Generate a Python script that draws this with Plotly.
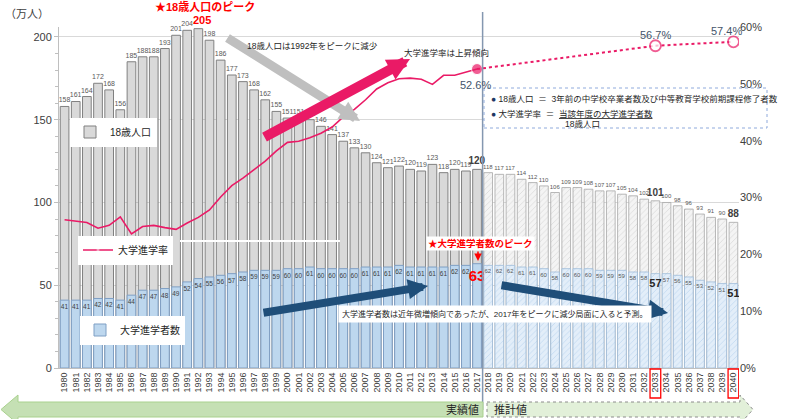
import plotly.graph_objects as go

# ---------------- data ----------------
years_actual = list(range(1980, 2018))
years_proj = list(range(2018, 2041))

pop_actual = [158, 161, 164, 172, 168, 156, 185, 188, 188, 193, 201, 204, 205, 198, 186, 177,
              173, 168, 162, 155, 151, 151, 150, 146, 141, 137, 133, 130, 124, 121, 122, 120,
              119, 123, 118, 120, 119, 120]
pop_proj = [118, 117, 117, 114, 112, 110, 106, 109, 109, 108, 107, 107, 105, 104, 102, 101,
            100, 98, 96, 93, 91, 90, 88]

ent_actual = [41, 41, 41, 42, 42, 41, 44, 47, 47, 48, 49, 52, 54, 55, 56, 57, 58, 59, 59, 59,
              60, 60, 61, 60, 60, 60, 60, 61, 61, 61, 62, 61, 61, 61, 61, 62, 62, 63]
ent_proj = [62, 62, 62, 61, 61, 60, 58, 60, 60, 60, 59, 59, 59, 58, 58, 57, 57, 56, 55, 53,
            52, 51, 51]

rate_actual = [26.1, 25.9, 25.6, 24.6, 25.1, 26.6, 23.6, 24.9, 25.1, 24.7, 24.4, 25.5, 26.5,
               27.8, 30.1, 32.1, 33.4, 34.9, 36.4, 38.2, 39.7, 39.9, 40.5, 41.3, 42.4, 44.2,
               45.5, 47.2, 49.1, 50.2, 50.9, 51.0, 50.8, 49.9, 51.5, 51.5, 52.0, 52.6]
rate_proj_years = [2017, 2033, 2040]
rate_proj = [52.6, 56.7, 57.4]

all_years = years_actual + years_proj
tick_labels = [str(y) for y in all_years]
boxed_years = [2033, 2040]
peak_year = 1992

# ---------------- styles ----------------
FONT = "Liberation Sans, Noto Sans CJK JP, sans-serif"
PINK = "#ea1a66"
GRAY_TXT = "#595959"
NAVY = "#1f4e79"

L, R, T, B = 59, 61, 27, 51
W, H = 800, 419
PW, PH = W - L - R, H - T - B


def px(x):
    return (x - L) / PW


def py(y):
    return (H - B - y) / PH


def special(vals, years, marks, base_size, base_color, hide=()):
    txt, sz, col = [], [], []
    for v, yr in zip(vals, years):
        if yr in hide:
            txt.append("")
            sz.append(base_size)
            col.append(base_color)
        elif yr in marks:
            s, c = marks[yr]
            txt.append("<b>%d</b>" % v)
            sz.append(s)
            col.append(c)
        else:
            txt.append(str(v))
            sz.append(base_size)
            col.append(base_color)
    return txt, sz, col


pa_t, pa_s, pa_c = special(pop_actual, years_actual, {2017: (10, "#404040")}, 7, GRAY_TXT, hide=(peak_year,))
pp_t, pp_s, pp_c = special(pop_proj, years_proj, {2033: (10, "#404040"), 2040: (10, "#404040")}, 6, GRAY_TXT)
ea_t, ea_s, ea_c = special(ent_actual, years_actual, {2017: (15, "#ff0000")}, 6.5, "#404040")
ep_t, ep_s, ep_c = special(ent_proj, years_proj, {2033: (11, "#262626"), 2040: (11, "#262626")}, 6, GRAY_TXT)

fig = go.Figure()

bw = 0.78
fig.add_trace(go.Bar(
    x=years_actual, y=pop_actual, name="18歳人口", width=bw,
    marker=dict(color="#d9d9d9", line=dict(color="#808080", width=1)),
    text=pa_t, textposition="outside", textangle=0, constraintext="none",
    textfont=dict(size=pa_s, color=pa_c), cliponaxis=False, legend="legend",
))
fig.add_trace(go.Bar(
    x=years_proj, y=pop_proj, showlegend=False, width=bw,
    marker=dict(color="#f4f4f4", line=dict(color="#a6a6a6", width=0.8),
                pattern=dict(shape="/", fgcolor="#bfbfbf", size=4, solidity=0.2, fillmode="overlay")),
    text=pp_t, textposition="outside", textangle=0, constraintext="none",
    textfont=dict(size=pp_s, color=pp_c), cliponaxis=False,
))
fig.add_trace(go.Bar(
    x=years_actual, y=ent_actual, name="大学進学者数", width=bw,
    marker=dict(color="#bdd7ee", line=dict(color="#7f9fc4", width=1)),
    text=ea_t, textposition="inside", insidetextanchor="end", textangle=0, constraintext="none",
    textfont=dict(size=ea_s, color=ea_c), legend="legend3",
))
fig.add_trace(go.Bar(
    x=years_proj, y=ent_proj, showlegend=False, width=bw,
    marker=dict(color="#e3eef9", line=dict(color="#9dbbd9", width=0.8),
                pattern=dict(shape="/", fgcolor="#9dc3e6", size=4, solidity=0.2, fillmode="overlay")),
    text=ep_t, textposition="inside", insidetextanchor="end", textangle=0, constraintext="none",
    textfont=dict(size=ep_s, color=ep_c),
))

n = len(rate_actual)
fig.add_trace(go.Scatter(
    x=years_actual, y=rate_actual, yaxis="y2", mode="lines+markers", name="大学進学率",
    line=dict(color=PINK, width=1.6),
    marker=dict(size=[0] * (n - 1) + [11], color=PINK), legend="legend2",
))
fig.add_trace(go.Scatter(
    x=rate_proj_years, y=rate_proj, yaxis="y2", mode="lines+markers", showlegend=False,
    line=dict(color=PINK, width=2, dash="dot"),
    marker=dict(size=[0, 11, 11], color="white", line=dict(color=PINK, width=1.8)),
))

shapes = []
shapes.append(dict(type="line", xref="x", yref="paper", x0=2017.5, x1=2017.5,
                   y0=py(410), y1=py(12), line=dict(color="#8497b0", width=1.5), layer="above"))
for yr in boxed_years:
    shapes.append(dict(type="rect", xref="x", yref="paper", x0=yr - 0.48, x1=yr + 0.48,
                       y0=py(398), y1=py(369), line=dict(color="#ff0000", width=1.3)))
shapes.append(dict(type="line", xref="paper", yref="paper", x0=px(180), x1=px(340),
                   y0=py(241), y1=py(241), line=dict(color="white", width=2), layer="above"))
shapes.append(dict(type="rect", xref="paper", yref="paper", x0=px(484), x1=px(767),
                   y0=py(128), y1=py(88), line=dict(color="#8faadc", width=1, dash="dot"),
                   fillcolor="white", layer="above"))
left_arrow = "M {a},{b} L {c},{b} L {c},{d} L {e},{f} L {c},{g} L {c},{h} L {a},{h} Z".format(
    a=px(483), b=py(402), c=px(18), d=py(395), e=px(1), f=py(409.5), g=py(424), h=py(417))
shapes.append(dict(type="path", xref="paper", yref="paper", path=left_arrow,
                   fillcolor="#c5e0b4", line=dict(color="#a9d18e", width=1)))
right_arrow = "M {a},{b} L {c},{b} L {c},{d} L {e},{f} L {c},{g} L {c},{h} L {a},{h} Z".format(
    a=px(487), b=py(402), c=px(740), d=py(395), e=px(753), f=py(409.5), g=py(424), h=py(417))
shapes.append(dict(type="path", xref="paper", yref="paper", path=right_arrow,
                   fillcolor="#e2f0d9", line=dict(color="#8c8c8c", width=1, dash="dot")))

ann = []


def text(x, y, s, size=9, color="#262626", **kw):
    d = dict(xref="paper", yref="paper", x=px(x), y=py(y), text=s, showarrow=False,
             font=dict(size=size, color=color, family=FONT), xanchor="center", yanchor="middle")
    d.update(kw)
    ann.append(d)


def arrow(x, y, tx, ty, color, width, size):
    ann.append(dict(xref="paper", yref="paper", x=px(x), y=py(y), ax=tx - x, ay=ty - y,
                    text="", showarrow=True, arrowhead=2, arrowwidth=width, arrowsize=size,
                    arrowcolor=color))


text(27, 14, "（万人）", size=11, color="#404040")
text(205, 6, "<b>★18歳人口のピーク</b>", size=11, color="#ff0000")
# peak population label
pk = years_actual.index(peak_year)
ann.append(dict(x=peak_year, y=pop_actual[pk], xref="x", yref="y", text="<b>%d</b>" % pop_actual[pk],
                showarrow=False, yshift=9, xshift=4,
                font=dict(size=11, color="#ff0000", family=FONT)))
arrow(360, 121, 226, 37, "#bfbfbf", 9, 0.45)
text(312, 46, "18歳人口は1992年をピークに減少", size=8.5)
arrow(410, 59, 263, 138, PINK, 10, 0.45)
text(446, 53, "大学進学率は上昇傾向", size=8.5)

ann.append(dict(x=2017, y=52.6, xref="x", yref="y2", text="52.6%", showarrow=False,
                yshift=-16, xshift=-2, font=dict(size=11, color="#44546a", family=FONT)))
ann.append(dict(x=2033, y=56.7, xref="x", yref="y2", text="56.7%", showarrow=False,
                yshift=11, font=dict(size=11, color="#44546a", family=FONT)))
ann.append(dict(x=2040, y=57.4, xref="x", yref="y2", text="57.4%", showarrow=False,
                yshift=11, xshift=-7, font=dict(size=11, color="#44546a", family=FONT)))

bullet = '<span style="color:#1f3864">●</span> '
text(489, 99, bullet + "18歳人口  ＝  3年前の中学校卒業者数及び中等教育学校前期課程修了者数",
     size=8.5, color="#262626", xanchor="left")
text(489, 114, bullet + '大学進学率  ＝  <span style="text-decoration:underline">当該年度の大学進学者数</span>',
     size=8.5, color="#262626", xanchor="left")
text(582, 124, "18歳人口", size=8.5)

text(480, 243, "<b>★大学進学者数のピーク</b>", size=9.5, color="#ff0000", bgcolor="white")
arrow(478, 261, 478, 250, "#ff0000", 1.5, 1)

arrow(428, 286, 262, 313, NAVY, 8, 0.5)
arrow(668, 313, 500, 285, NAVY, 8, 0.5)
text(495, 314, "大学進学者数は近年微増傾向であったが、2017年をピークに減少局面に入ると予測。",
     size=8, bgcolor="white", borderpad=3)

text(462, 410, "実績値", size=11, color="#262626")
text(510, 410, "推計値", size=11, color="#262626")

leg_common = dict(bgcolor="white", borderwidth=0, itemwidth=30, xanchor="left", yanchor="middle",
                  font=dict(size=10, color="#262626", family=FONT))

fig.update_layout(
    width=W, height=H,
    margin=dict(l=L, r=R, t=T, b=B),
    paper_bgcolor="white", plot_bgcolor="white",
    font=dict(family=FONT, color="#404040"),
    barmode="overlay", bargap=0.2,
    legend=dict(x=px(70), y=py(132), **leg_common),
    legend2=dict(x=px(78), y=py(250), **leg_common),
    legend3=dict(x=px(80), y=py(330), **leg_common),
    xaxis=dict(range=[1979.5, 2040.5], tickvals=all_years, ticktext=tick_labels, tickangle=-90,
               tickfont=dict(size=9, color="#404040"), showline=True, linecolor="#bfbfbf",
               showgrid=False, zeroline=False, ticks=""),
    yaxis=dict(range=[0, 206], tickvals=[0, 50, 100, 150, 200], showgrid=True, gridcolor="#d9d9d9",
               zeroline=False, showline=True, linecolor="#bfbfbf", ticks="outside", ticklen=4,
               tickcolor="#bfbfbf", tickfont=dict(size=11, color="#404040"),
               minor=dict(dtick=10, ticks="outside", ticklen=3, tickcolor="#bfbfbf", showgrid=False)),
    yaxis2=dict(range=[0, 60], overlaying="y", side="right", dtick=10, ticksuffix="%",
                showgrid=False, zeroline=False, showline=False, tickfont=dict(size=11, color="#404040")),
    shapes=shapes,
    annotations=ann,
)

fig.write_html("out.html")
